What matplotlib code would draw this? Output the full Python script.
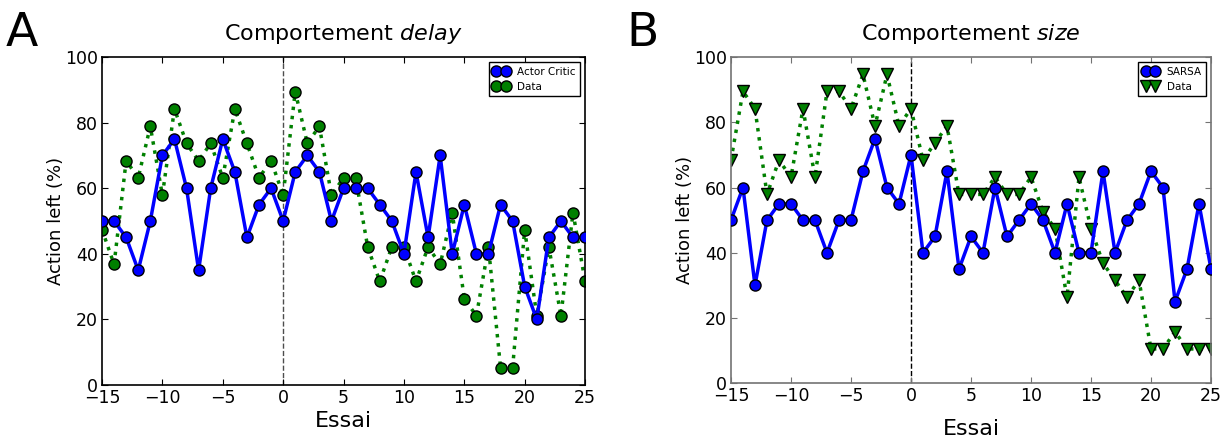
import numpy as np
import matplotlib
matplotlib.use("Agg")
import matplotlib.pyplot as plt

trials = np.arange(-15, 26)

# Panel A - comportement delay
delay_actor_critic = [50, 50, 45, 35, 50, 70, 75, 60, 35, 60,
                      75, 65, 45, 55, 60, 50, 65, 70, 65, 50,
                      60, 60, 60, 55, 50, 40, 65, 45, 70, 40,
                      55, 40, 40, 55, 50, 30, 20, 45, 50, 45, 45]
delay_data = [47.4, 36.8, 68.4, 63.2, 78.9, 57.9, 84.2, 73.7, 68.4, 73.7,
              63.2, 84.2, 73.7, 63.2, 68.4, 57.9, 89.5, 73.7, 78.9, 57.9,
              63.2, 63.2, 42.1, 31.6, 42.1, 42.1, 31.6, 42.1, 36.8, 52.6,
              26.3, 21.1, 42.1, 5.3, 5.3, 47.4, 21.1, 42.1, 21.1, 52.6, 31.6]

# Panel B - comportement size
size_sarsa = [50, 60, 30, 50, 55, 55, 50, 50, 40, 50,
              50, 65, 75, 60, 55, 70, 40, 45, 65, 35,
              45, 40, 60, 45, 50, 55, 50, 40, 55, 40,
              40, 65, 40, 50, 55, 65, 60, 25, 35, 55, 35]
size_data = [68.4, 89.5, 84.2, 57.9, 68.4, 63.2, 84.2, 63.2, 89.5, 89.5,
             84.2, 94.7, 78.9, 94.7, 78.9, 84.2, 68.4, 73.7, 78.9, 57.9,
             57.9, 57.9, 63.2, 57.9, 57.9, 63.2, 52.6, 47.4, 26.3, 63.2,
             47.4, 36.8, 31.6, 26.3, 31.6, 10.5, 10.5, 15.8, 10.5, 10.5, 10.5]

xticks = [-15, -10, -5, 0, 5, 10, 15, 20, 25]
yticks = [0, 20, 40, 60, 80, 100]

plt.rcParams["font.family"] = "DejaVu Sans"
plt.rcParams["axes.unicode_minus"] = True

fig = plt.figure(figsize=(12.23, 4.43), dpi=100)
ax_a = fig.add_axes([0.0834, 0.131, 0.395, 0.740])
ax_b = fig.add_axes([0.5977, 0.135, 0.3925, 0.736])


def style(ax, spine_color, xpad):
    ax.set_xlim(-15, 25)
    ax.set_ylim(0, 100)
    ax.set_xticks(xticks)
    ax.set_yticks(yticks)
    ax.tick_params(direction="in", top=True, right=True, length=4,
                   labelsize=12.5, pad=3, color=spine_color)
    for sp in ax.spines.values():
        sp.set_color(spine_color)
        sp.set_linewidth(1.2)
    ax.set_xlabel("Essai", fontsize=16, labelpad=xpad)
    ax.set_ylabel("Action left (%)", fontsize=13, labelpad=0)


ax_a.plot(trials, delay_actor_critic, "-o", color="b", lw=2.5,
          markersize=8, markeredgecolor="k", markeredgewidth=1,
          label="Actor Critic", zorder=3)
ax_a.plot(trials, delay_data, ":o", color="g", lw=2.5,
          markersize=8, markeredgecolor="k", markeredgewidth=1,
          label="Data", zorder=2)
style(ax_a, "black", 3)
ax_a.axvline(0, color="0.3", linestyle="--", linewidth=1, zorder=1)
ax_a.set_title(r"Comportement $\mathit{delay}$", fontsize=16, pad=12)
ax_a.legend(loc="upper right", fontsize=7.5, numpoints=2, handlelength=1.5,
            fancybox=False, edgecolor="k", framealpha=1, borderaxespad=0.5)

ax_b.plot(trials, size_sarsa, "-o", color="b", lw=2.5,
          markersize=8, markeredgecolor="k", markeredgewidth=1,
          label="SARSA", zorder=3)
ax_b.plot(trials, size_data, ":v", color="g", lw=2.5,
          markersize=8, markeredgecolor="k", markeredgewidth=1,
          label="Data", zorder=2)
style(ax_b, "0.45", 10)
ax_b.axvline(0, color="k", linestyle="--", linewidth=1, zorder=1)
ax_b.set_title(r"Comportement $\mathit{size}$", fontsize=16, pad=12)
ax_b.legend(loc="upper right", fontsize=7.5, numpoints=2, handlelength=1.5,
            fancybox=False, edgecolor="k", framealpha=1, borderaxespad=0.5)

fig.text(0.005, 0.975, "A", fontsize=34, va="top", ha="left")
fig.text(0.512, 0.975, "B", fontsize=34, va="top", ha="left")

fig.savefig("out.png", dpi=100, facecolor="white")
